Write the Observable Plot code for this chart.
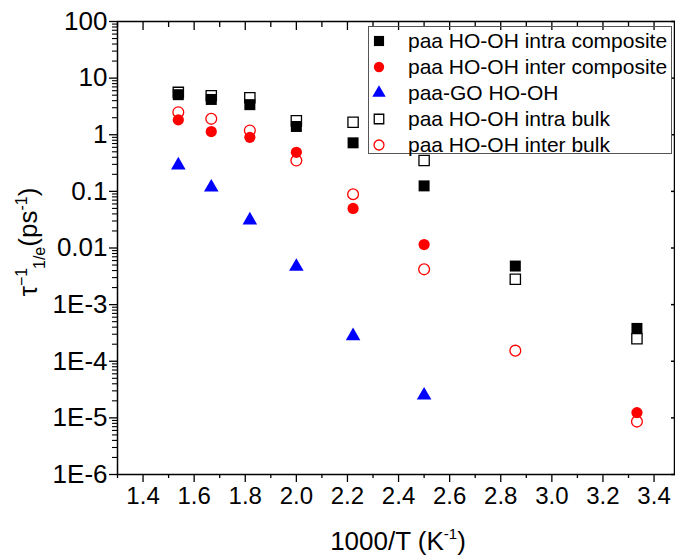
<!DOCTYPE html>
<html><head><meta charset="utf-8">
<script src="https://cdn.jsdelivr.net/npm/d3@7"></script>
<script src="https://cdn.jsdelivr.net/npm/@observablehq/plot@0.6"></script>
<style>
body{margin:0;background:#fff;}
#wrap{position:relative;width:675px;height:556px;font-family:"Liberation Sans",Arial,sans-serif;}
#legend{position:absolute;left:368px;top:26px;width:304px;height:128px;border:1px solid #555;box-sizing:border-box;}
.row{position:absolute;left:0;height:26px;display:flex;align-items:center;font-size:21px;color:#000;white-space:nowrap;}
.row svg{width:20px;height:20px;margin-left:0px;margin-right:19px;flex:none;}
</style></head>
<body><div id="wrap"></div>
<script>
// 1000/T values (K^-1)
const xVals = [1.538, 1.667, 1.818, 2.0, 2.222, 2.5, 2.857, 3.333];
// tau^-1 (ps^-1) per series
const intraComposite = [5.1, 4.2, 3.4, 1.4, 0.72, 0.125, 0.0048, 3.8e-4];
const interComposite = [1.83, 1.14, 0.90, 0.49, 0.050, 0.0115, null, 1.24e-5];
const goHOOH = [0.29, 0.118, 0.031, 0.0047, 2.8e-4, 2.5e-5, null, null];
const intraBulk = [5.6, 4.9, 4.5, 1.76, 1.66, 0.35, 0.0028, 2.5e-4];
const interBulk = [2.5, 1.91, 1.19, 0.35, 0.089, 0.0042, 1.54e-4, 8.6e-6];
const seriesNames = ["paa HO-OH intra composite", "paa HO-OH inter composite", "paa-GO HO-OH", "paa HO-OH intra bulk", "paa HO-OH inter bulk"];
const seriesValues = [intraComposite, interComposite, goHOOH, intraBulk, interBulk];

const xTicks = [1.4, 1.6, 1.8, 2.0, 2.2, 2.4, 2.6, 2.8, 3.0, 3.2, 3.4];
const xTickLabels = ["1.4", "1.6", "1.8", "2.0", "2.2", "2.4", "2.6", "2.8", "3.0", "3.2", "3.4"];
const xMinorTicks = [1.3, 1.5, 1.7, 1.9, 2.1, 2.3, 2.5, 2.7, 2.9, 3.1, 3.3];
const yTicks = [1e-6, 1e-5, 1e-4, 1e-3, 0.01, 0.1, 1, 10, 100];
const yTickLabels = ["1E-6", "1E-5", "1E-4", "1E-3", "0.01", "0.1", "1", "10", "100"];
const yMinorTicks = [];
for (const d of yTicks.slice(0, -1)) for (let m = 2; m <= 9; m++) yMinorTicks.push(d * m);

const styles = [
  {symbol: "square", fill: "black", stroke: "none", r: 6.2},
  {symbol: "circle", fill: "#ff0000", stroke: "none", r: 5.6},
  {symbol: "triangle", fill: "#0000ff", stroke: "none", r: 5.4},
  {symbol: "square", fill: "none", stroke: "black", r: 5.8, strokeWidth: 1.3},
  {symbol: "circle", fill: "none", stroke: "#ff0000", r: 5.4, strokeWidth: 1.3}
];

const rows = [];
seriesValues.forEach((vals, s) => vals.forEach((v, i) => { if (v != null) rows.push({s, x: xVals[i], y: v}); }));

const blank = () => "";
const chart = Plot.plot({
  width: 675, height: 556,
  marginLeft: 117, marginRight: 1, marginTop: 21, marginBottom: 82,
  x: {domain: [1.3, 3.48]},
  y: {type: "log", domain: [1e-6, 100]},
  style: {fontFamily: "'Liberation Sans', Arial, sans-serif", fontSize: "24px", color: "black", background: "white", overflow: "visible"},
  marks: [
    Plot.axisX({ticks: xTicks, tickSize: 8, tickPadding: 4, fontSize: 24, tickFormat: d => xTickLabels[xTicks.indexOf(d)], label: null, strokeWidth: 1.3}),
    Plot.axisX({ticks: xMinorTicks, tickSize: 4, tickFormat: blank, label: null, strokeWidth: 1.3}),
    Plot.axisX({anchor: "top", ticks: xTicks, tickSize: 8, dy: 8, tickFormat: blank, label: null, strokeWidth: 1.3}),
    Plot.axisX({anchor: "top", ticks: xMinorTicks, tickSize: 5, dy: 5, tickFormat: blank, label: null, strokeWidth: 1.3}),
    Plot.axisY({ticks: yTicks, tickSize: 8, tickPadding: 2, fontSize: 26, tickFormat: d => yTickLabels[yTicks.indexOf(d)], label: null, strokeWidth: 1.3}),
    Plot.axisY({ticks: yMinorTicks, tickSize: 5, tickFormat: blank, label: null, strokeWidth: 1.1}),
    Plot.axisY({anchor: "right", ticks: yTicks, tickSize: 4, dx: -4, tickFormat: blank, label: null, strokeWidth: 1.5}),
    Plot.frame({stroke: "black", strokeWidth: 1.5}),
    ...styles.map((st, s) => Plot.dot(rows.filter(d => d.s === s), {x: "x", y: "y", ...st}))
  ]
});
document.getElementById("wrap").appendChild(chart);

const svg = d3.select(chart);

const yl = svg.append("text")
  .attr("transform", "translate(37,242) rotate(-90)")
  .attr("text-anchor", "middle").attr("font-size", 26).attr("fill", "black")
  .attr("font-family", "'Liberation Sans', Arial, sans-serif");
yl.append("tspan").text("τ");
yl.append("tspan").attr("dy", -10).attr("font-size", 16).text("−1");
yl.append("tspan").attr("dy", 18).attr("font-size", 16).text("1/e");
yl.append("tspan").attr("dy", -8).text("(ps");
yl.append("tspan").attr("dy", -10).attr("font-size", 16).text("-1");
yl.append("tspan").attr("dy", 10).text(")");

const xl = svg.append("text")
  .attr("x", 398).attr("y", 550)
  .attr("text-anchor", "middle").attr("font-size", 26).attr("fill", "black")
  .attr("font-family", "'Liberation Sans', Arial, sans-serif");
xl.append("tspan").text("1000/T (K");
xl.append("tspan").attr("dy", -11).attr("font-size", 15).text("-1");
xl.append("tspan").attr("dy", 11).text(")");

// legend
const legend = document.createElement("div");
legend.id = "legend";
const ns = "http://www.w3.org/2000/svg";
seriesNames.forEach((name, s) => {
  const row = document.createElement("div");
  row.className = "row";
  row.style.top = (1 + s * 26) + "px";
  const sv = document.createElementNS(ns, "svg");
  const st = styles[s];
  const p = document.createElementNS(ns, "path");
  const sym = {square: d3.symbolSquare, circle: d3.symbolCircle, triangle: d3.symbolTriangle}[st.symbol];
  p.setAttribute("d", d3.symbol(sym, Math.PI * st.r * st.r * 0.85)());
  p.setAttribute("transform", "translate(10,10)");
  p.setAttribute("fill", st.fill);
  p.setAttribute("stroke", st.stroke);
  if (st.strokeWidth) p.setAttribute("stroke-width", st.strokeWidth);
  sv.appendChild(p);
  row.appendChild(sv);
  const t = document.createElement("span");
  t.textContent = name;
  row.appendChild(t);
  legend.appendChild(row);
});
document.getElementById("wrap").appendChild(legend);
</script>
</body></html>
